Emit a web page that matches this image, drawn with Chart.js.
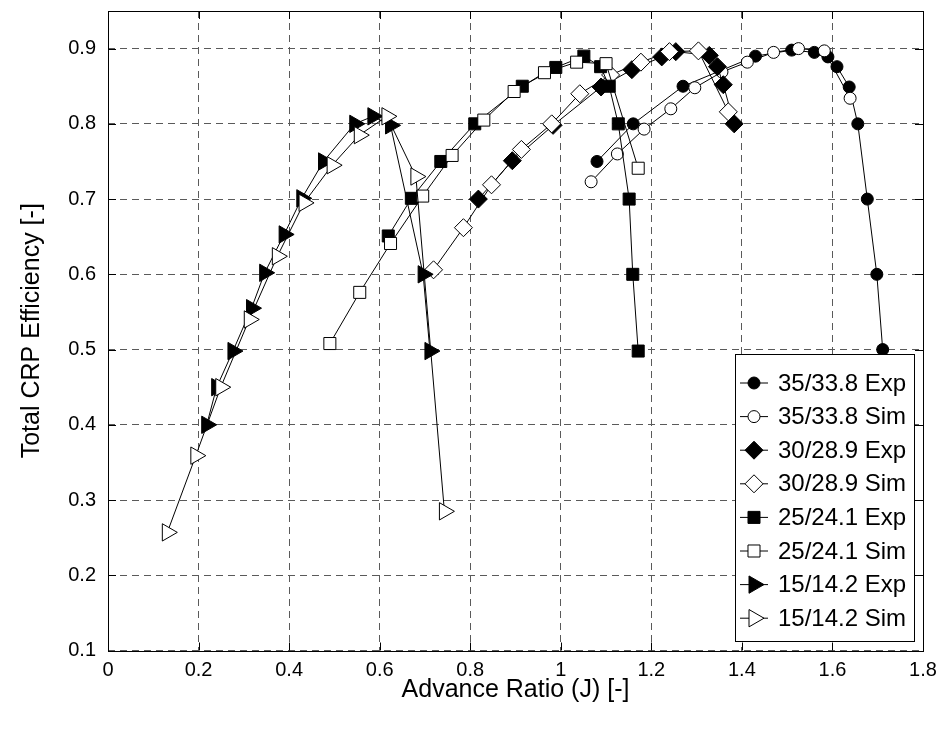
<!DOCTYPE html>
<html>
<head>
<meta charset="utf-8">
<script src="https://cdn.jsdelivr.net/npm/chart.js@4"></script>
<style>
  body { margin: 0; background: #fff; }
</style>
</head>
<body>
<canvas id="grafico" width="944" height="736"></canvas>
<script>
// tick labels
var xTicks = [0, 0.2, 0.4, 0.6, 0.8, 1.0, 1.2, 1.4, 1.6, 1.8];
var yTicks = [0.1, 0.2, 0.3, 0.4, 0.5, 0.6, 0.7, 0.8, 0.9];

var series = ["35/33.8 Exp", "35/33.8 Sim", "30/28.9 Exp", "30/28.9 Sim",
              "25/24.1 Exp", "25/24.1 Sim", "15/14.2 Exp", "15/14.2 Sim"];

// advance ratio J / efficiency values per series
var j35exp = [1.08, 1.16, 1.27, 1.43, 1.51, 1.56, 1.59, 1.61, 1.637, 1.656, 1.677, 1.698, 1.711];
var e35exp = [0.75, 0.80, 0.85, 0.89, 0.898, 0.895, 0.889, 0.876, 0.849, 0.80, 0.70, 0.60, 0.50];
var j35sim = [1.067, 1.125, 1.184, 1.243, 1.296, 1.356, 1.412, 1.47, 1.525, 1.582, 1.639];
var e35sim = [0.723, 0.76, 0.793, 0.82, 0.848, 0.869, 0.882, 0.895, 0.90, 0.897, 0.834];

var j30exp = [0.818, 0.893, 0.983, 1.089, 1.157, 1.223, 1.254, 1.328, 1.346, 1.359, 1.383];
var e30exp = [0.70, 0.751, 0.798, 0.849, 0.872, 0.889, 0.896, 0.891, 0.876, 0.852, 0.80];
var j30sim = [0.719, 0.785, 0.847, 0.913, 0.98, 1.042, 1.11, 1.177, 1.24, 1.304, 1.37];
var e30sim = [0.606, 0.662, 0.719, 0.766, 0.80, 0.84, 0.865, 0.882, 0.896, 0.897, 0.816];

var j25exp = [0.619, 0.67, 0.735, 0.81, 0.915, 0.989, 1.051, 1.088, 1.107, 1.127, 1.151, 1.159, 1.171];
var e25exp = [0.651, 0.701, 0.75, 0.80, 0.85, 0.875, 0.89, 0.876, 0.85, 0.80, 0.70, 0.60, 0.498];
var j25sim = [0.49, 0.556, 0.624, 0.695, 0.76, 0.83, 0.897, 0.964, 1.035, 1.10, 1.171];
var e25sim = [0.508, 0.576, 0.641, 0.704, 0.758, 0.805, 0.843, 0.868, 0.882, 0.88, 0.741];

var j15exp = [0.218, 0.24, 0.276, 0.317, 0.346, 0.389, 0.428, 0.476, 0.545, 0.585, 0.624, 0.696, 0.711];
var e15exp = [0.40, 0.45, 0.498, 0.555, 0.602, 0.653, 0.701, 0.75, 0.80, 0.81, 0.798, 0.60, 0.498];
var j15sim = [0.131, 0.194, 0.249, 0.312, 0.374, 0.433, 0.495, 0.555, 0.616, 0.68, 0.743];
var e15sim = [0.257, 0.359, 0.45, 0.54, 0.624, 0.695, 0.745, 0.785, 0.81, 0.73, 0.285];

var xs = [j35exp, j35sim, j30exp, j30sim, j25exp, j25sim, j15exp, j15sim];
var ys = [e35exp, e35sim, e30exp, e30sim, e25exp, e25sim, e15exp, e15sim];

// marker style per series
var estilos = [
  { forma: "circle", r: 6, rot: 0, relleno: "#000" },
  { forma: "circle", r: 6, rot: 0, relleno: "#fff" },
  { forma: "rectRot", r: 9, rot: 0, relleno: "#000" },
  { forma: "rectRot", r: 9, rot: 0, relleno: "#fff" },
  { forma: "rect", r: 8.5, rot: 0, relleno: "#000" },
  { forma: "rect", r: 8.5, rot: 0, relleno: "#fff" },
  { forma: "triangle", r: 10, rot: 90, relleno: "#000" },
  { forma: "triangle", r: 10, rot: 90, relleno: "#fff" }
];

Chart.defaults.font.family = "'Liberation Sans', Arial, sans-serif";
Chart.defaults.color = "#000";

var datasets = series.map(function (nombre, i) {
  return {
    label: nombre,
    data: xs[i].map(function (x, k) { return { x: x, y: ys[i][k] }; }),
    showLine: true,
    borderColor: "#000",
    borderWidth: 1,
    pointStyle: estilos[i].forma,
    pointRadius: estilos[i].r,
    pointRotation: estilos[i].rot,
    pointBackgroundColor: estilos[i].relleno,
    pointBorderColor: "#000",
    pointBorderWidth: 1,
    order: series.length - i
  };
});

// frame with inward ticks, like the original plot
var marco = {
  id: "marco",
  afterDatasetsDraw: function (chart) {
    var ctx = chart.ctx;
    var a = chart.chartArea;
    var sx = chart.scales.x, sy = chart.scales.y;
    ctx.save();
    ctx.strokeStyle = "#000";
    ctx.lineWidth = 1;
    ctx.strokeRect(Math.round(a.left) + 0.5, Math.round(a.top) + 0.5,
                   Math.round(a.right - a.left), Math.round(a.bottom - a.top));
    ctx.beginPath();
    xTicks.forEach(function (v) {
      var px = Math.round(sx.getPixelForValue(v)) + 0.5;
      ctx.moveTo(px, a.bottom); ctx.lineTo(px, a.bottom - 8);
      ctx.moveTo(px, a.top); ctx.lineTo(px, a.top + 8);
    });
    yTicks.forEach(function (v) {
      var py = Math.round(sy.getPixelForValue(v)) + 0.5;
      ctx.moveTo(a.left, py); ctx.lineTo(a.left + 8, py);
      ctx.moveTo(a.right, py); ctx.lineTo(a.right - 8, py);
    });
    ctx.stroke();
    ctx.restore();
  }
};

var leyenda = {
  id: "leyenda",
  afterDraw: function (chart) {
    var ctx = chart.ctx;
    var x0 = 735.5, y0 = 354.5, w = 179, h = 287;
    ctx.save();
    ctx.fillStyle = "#fff";
    ctx.fillRect(x0, y0, w, h);
    ctx.strokeStyle = "#000";
    ctx.lineWidth = 1;
    ctx.strokeRect(x0, y0, w, h);
    ctx.font = "24px 'Liberation Sans', Arial, sans-serif";
    ctx.textBaseline = "middle";
    series.forEach(function (nombre, i) {
      var yy = 383 + i * 33.6;
      ctx.beginPath();
      ctx.moveTo(740, yy); ctx.lineTo(768, yy);
      ctx.strokeStyle = "#000";
      ctx.stroke();
      ctx.fillStyle = estilos[i].relleno;
      ctx.strokeStyle = "#000";
      Chart.helpers.drawPoint(ctx, {
        pointStyle: estilos[i].forma,
        radius: estilos[i].r,
        rotation: estilos[i].rot,
        borderWidth: 1
      }, 754, yy);
      ctx.fillStyle = "#000";
      ctx.fillText(nombre, 778, yy + 1);
    });
    ctx.restore();
  }
};

new Chart(document.getElementById("grafico"), {
  type: "scatter",
  data: { datasets: datasets },
  plugins: [marco, leyenda],
  options: {
    responsive: false,
    animation: false,
    layout: { padding: { top: 9, right: 21, left: 0, bottom: 0 } },
    plugins: { legend: { display: false }, tooltip: { enabled: false } },
    scales: {
      x: {
        type: "linear",
        min: 0,
        max: 1.8,
        afterBuildTicks: function (s) {
          s.ticks = xTicks.map(function (v) { return { value: v }; });
        },
        afterFit: function (s) {
          s.height = 85.5;
          s.paddingLeft = 0;
          s.paddingRight = 0;
        },
        ticks: {
          font: { size: 20 },
          padding: 8,
          callback: function (v) { return String(Math.round(v * 10) / 10); }
        },
        grid: { color: "#5a5a5a", lineWidth: 1, drawTicks: false },
        border: { display: false, dash: [7, 5] },
        title: {
          display: true,
          text: "Advance Ratio (J) [-]",
          font: { size: 25 },
          padding: { top: 0, bottom: 31 }
        }
      },
      y: {
        type: "linear",
        min: 0.1,
        max: 0.95,
        afterBuildTicks: function (s) {
          s.ticks = yTicks.map(function (v) { return { value: v }; });
        },
        afterFit: function (s) {
          s.width = 108;
          s.paddingTop = 0;
          s.paddingBottom = 0;
        },
        ticks: {
          font: { size: 20 },
          padding: 12,
          callback: function (v) { return v.toFixed(1); }
        },
        grid: { color: "#5a5a5a", lineWidth: 1, drawTicks: false },
        border: { display: false, dash: [7, 5] },
        title: {
          display: true,
          text: "Total CRP Efficiency [-]",
          font: { size: 25 },
          padding: { top: 17, bottom: 0 }
        }
      }
    }
  }
});
</script>
</body>
</html>
